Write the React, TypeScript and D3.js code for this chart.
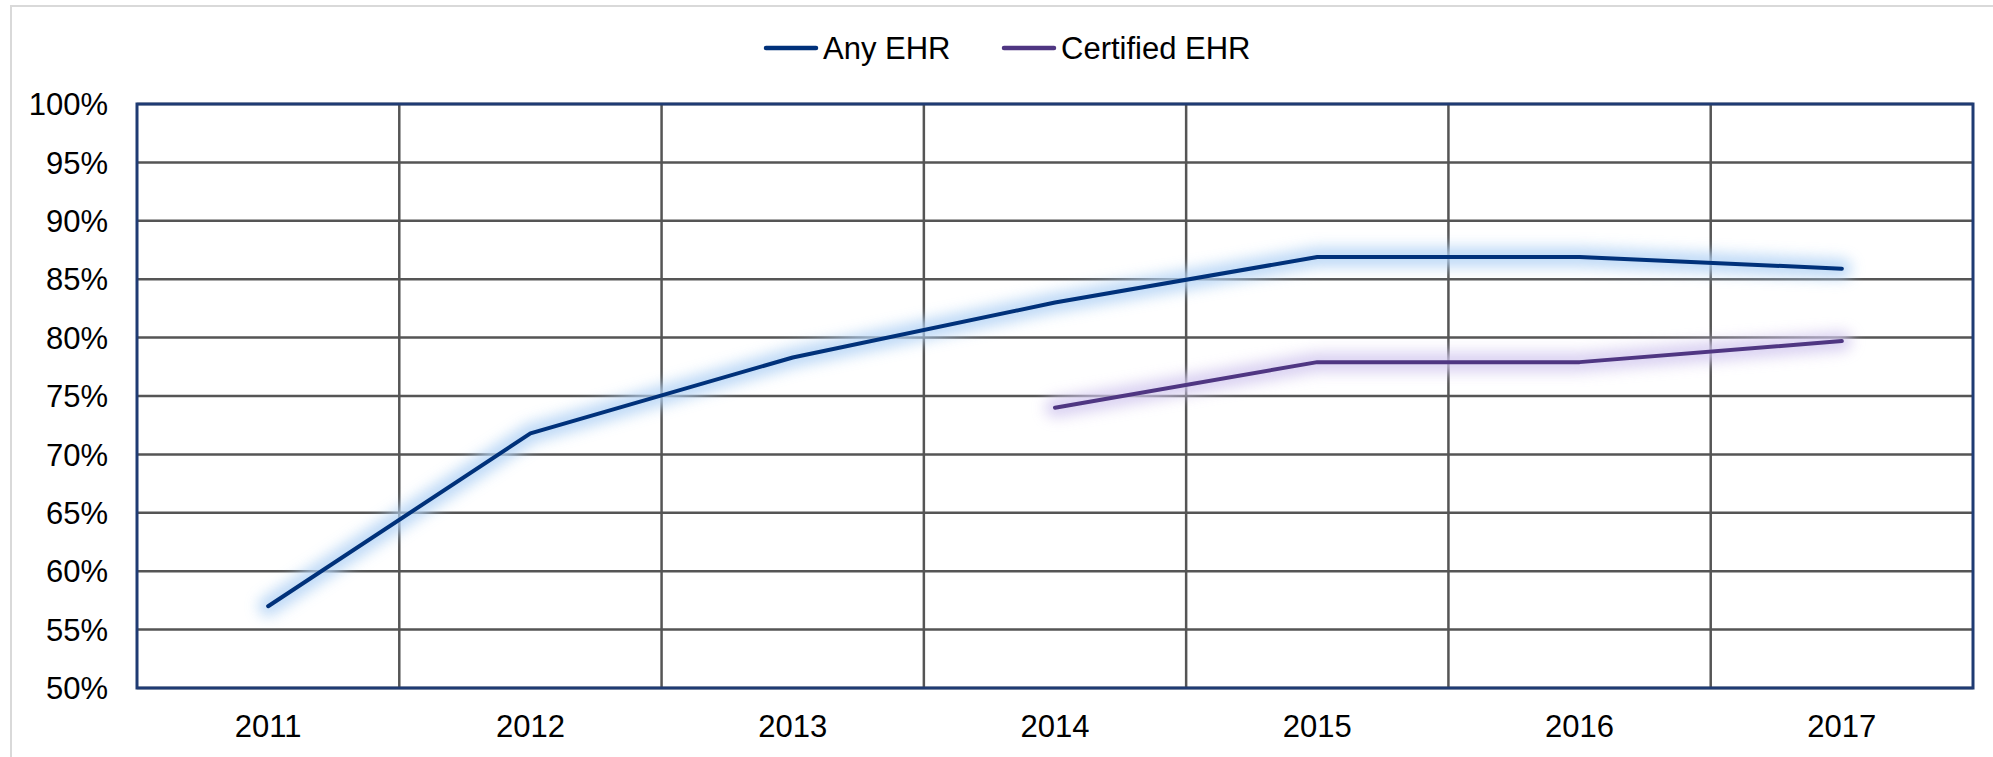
import React, { useEffect } from 'react';
import * as d3 from 'd3';

const years = ['2011', '2012', '2013', '2014', '2015', '2016', '2017'];
const anyEhr = [57, 71.8, 78.3, 83, 86.9, 86.9, 85.9];
const certifiedEhr = [null, null, null, 74, 77.9, 77.9, 79.7];
const yTicks = [50, 55, 60, 65, 70, 75, 80, 85, 90, 95, 100];
const seriesNames = ['Any EHR', 'Certified EHR'];

const W = 1993, H = 757;
const margin = { top: 104, right: 20, bottom: 69, left: 137 };
const colors = ['#00317a', '#4f3682'];
const glows = ['#b3d3f5', '#d3c9ef'];

export default function App() {
    useEffect(() => {
        document.body.style.margin = '0';
    }, []);

    const x = d3.scaleBand().domain(years).range([margin.left, W - margin.right]);
    const y = d3.scaleLinear().domain([50, 100]).range([H - margin.bottom, margin.top]);

    const line = d3.line<number | null>()
        .defined(d => d != null)
        .x((d, i) => (x(years[i]) as number) + x.bandwidth() / 2)
        .y(d => y(d as number));

    const series = [anyEhr, certifiedEhr];
    const font = '"Liberation Sans", Arial, sans-serif';

    return (
        <svg width={W} height={H} style={{ display: 'block', background: '#fff' }} fontFamily={font}>
            <defs>
                <filter id="glow" x="-10%" y="-60%" width="120%" height="220%">
                    <feGaussianBlur stdDeviation="7" />
                </filter>
            </defs>
            {/* outer chart frame */}
            <rect x={11} y={6} width={W + 20} height={H + 20} fill="none" stroke="#d9d9d9" strokeWidth={2} />

            {/* horizontal grid */}
            {yTicks.map(t => (
                <line key={t} x1={margin.left} x2={W - margin.right} y1={y(t)} y2={y(t)} stroke="#555" strokeWidth={2.5} />
            ))}
            {/* vertical grid between categories */}
            {years.slice(1).map(yr => (
                <line key={yr} x1={x(yr)} x2={x(yr)} y1={margin.top} y2={H - margin.bottom} stroke="#555" strokeWidth={2.5} />
            ))}
            <rect x={margin.left} y={margin.top} width={W - margin.right - margin.left} height={H - margin.bottom - margin.top}
                fill="none" stroke="#1f3b73" strokeWidth={3} />

            {/* y labels */}
            {yTicks.map(t => (
                <text key={t} x={108} y={y(t)} dy="0.36em" textAnchor="end" fontSize={31} fill="#000">{t}%</text>
            ))}
            {/* x labels */}
            {years.map(yr => (
                <text key={yr} x={(x(yr) as number) + x.bandwidth() / 2} y={737} textAnchor="middle" fontSize={31} fill="#000">{yr}</text>
            ))}

            {/* glow + lines */}
            {series.map((s, i) => (
                <path key={'g' + i} d={line(s) || ''} fill="none" stroke={glows[i]} strokeWidth={20} strokeLinecap="round"
                    strokeLinejoin="round" filter="url(#glow)" opacity={0.85} />
            ))}
            {series.map((s, i) => (
                <path key={'l' + i} d={line(s) || ''} fill="none" stroke={colors[i]} strokeWidth={4} strokeLinecap="round" strokeLinejoin="round" />
            ))}

            {/* legend */}
            {seriesNames.map((n, i) => {
                const lx = [766, 1004][i];
                return (
                    <g key={n}>
                        <line x1={lx} x2={lx + 50} y1={48} y2={48} stroke={colors[i]} strokeWidth={4.5} strokeLinecap="round" />
                        <text x={lx + 57} y={59} fontSize={31} fill="#000">{n}</text>
                    </g>
                );
            })}
        </svg>
    );
}
